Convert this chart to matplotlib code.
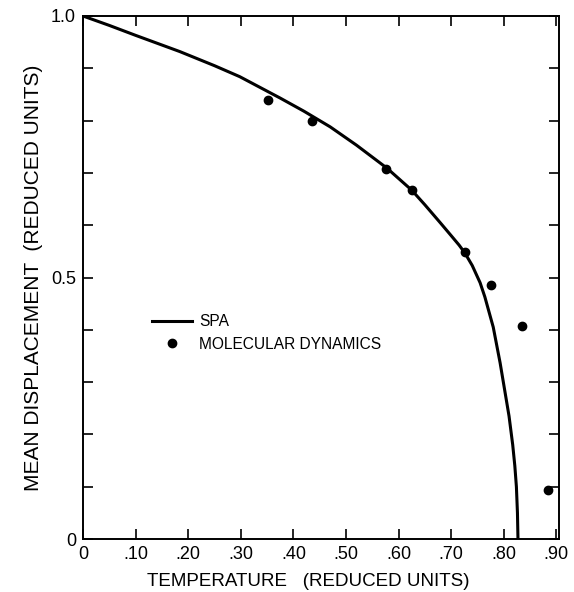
import matplotlib.pyplot as plt
from matplotlib.ticker import MultipleLocator

plt.rcParams['font.family'] = ['Liberation Sans', 'DejaVu Sans']

# SPA curve
spa_t = [0.0, 0.05, 0.10, 0.184, 0.25, 0.298, 0.375, 0.42, 0.47, 0.52, 0.578,
         0.625, 0.65, 0.679, 0.70, 0.715, 0.726, 0.74, 0.755, 0.764, 0.78,
         0.793, 0.80, 0.81, 0.817, 0.821, 0.824, 0.826, 0.827]
spa_d = [1.000, 0.982, 0.963, 0.932, 0.905, 0.884, 0.843, 0.818, 0.788, 0.753,
         0.709, 0.667, 0.639, 0.605, 0.580, 0.562, 0.547, 0.523, 0.490, 0.463,
         0.405, 0.337, 0.295, 0.235, 0.180, 0.140, 0.100, 0.050, 0.0]

# molecular dynamics points
md_t = [0.352, 0.435, 0.576, 0.625, 0.726, 0.776, 0.835, 0.884]
md_d = [0.839, 0.799, 0.707, 0.667, 0.549, 0.486, 0.407, 0.094]

xticks = [0, 0.1, 0.2, 0.3, 0.4, 0.5, 0.6, 0.7, 0.8, 0.9]
xlabels = ['0', '.10', '.20', '.30', '.40', '.50', '.60', '.70', '.80', '.90']
yticks = [0, 0.5, 1.0]
ylabels = ['0', '0.5', '1.0']

fig = plt.figure(figsize=(5.74, 5.92), dpi=100)
ax = fig.add_axes([83/574, 53/592, 476/574, 523/592])

ax.plot(spa_t, spa_d, color='black', lw=2.2, label='SPA', solid_joinstyle='round')
ax.plot(md_t, md_d, 'o', color='black', ms=6, label='MOLECULAR DYNAMICS')

ax.set_xlim(0, 0.905)
ax.set_ylim(0, 1.0)
ax.set_xticks(xticks)
ax.set_xticklabels(xlabels)
ax.set_yticks(yticks)
ax.set_yticklabels(ylabels)
ax.yaxis.set_minor_locator(MultipleLocator(0.1))
ax.tick_params(which='both', direction='in', top=True, right=True,
               length=7, width=1.2, labelsize=13, pad=5)
ax.tick_params(which='minor', length=7)
for s in ax.spines.values():
    s.set_linewidth(1.4)

ax.set_xlabel('TEMPERATURE   (REDUCED UNITS)', fontsize=13.5)
ax.xaxis.set_label_coords(0.473, -0.065)
ax.set_ylabel('MEAN DISPLACEMENT  (REDUCED UNITS)', fontsize=15, labelpad=6)

ax.legend(loc='upper left', bbox_to_anchor=(0.128, 0.445), frameon=False,
          fontsize=11.2, handlelength=2.6, handletextpad=0.45, labelspacing=0.5,
          borderpad=0)

fig.savefig('out.png', dpi=100)
